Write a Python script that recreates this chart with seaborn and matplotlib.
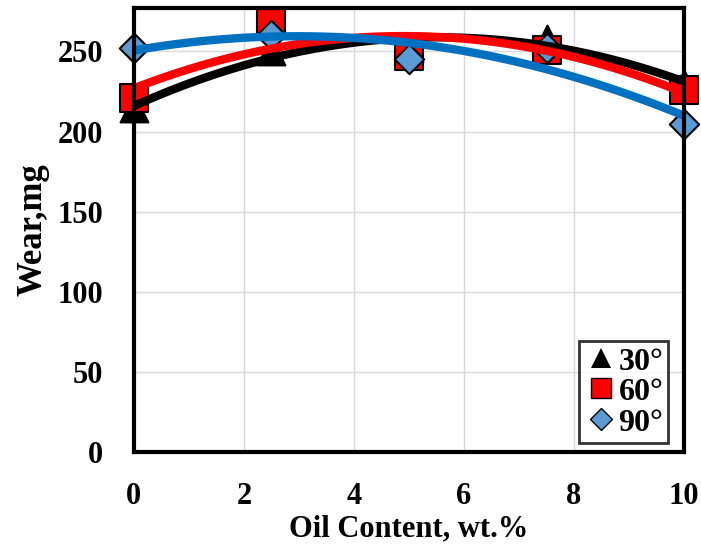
import numpy as np
import pandas as pd
import matplotlib
matplotlib.use("Agg")
import matplotlib.pyplot as plt
from matplotlib.lines import Line2D
import seaborn as sns

oil_content = [0, 2.5, 5, 7.5, 10]
wear_30 = [215, 250, 252, 258, 230]
wear_60 = [221, 268, 247, 251, 226]
wear_90 = [252, 260, 245, 252, 205]
series_labels = ["30°", "60°", "90°"]
x_ticks = [0, 2, 4, 6, 8, 10]
y_ticks = [0, 50, 100, 150, 200, 250]

sns.set_theme(style="white")
plt.rcParams["font.family"] = ["Liberation Serif", "DejaVu Serif"]
plt.rcParams["font.weight"] = "bold"
plt.rcParams["text.color"] = "black"
plt.rcParams["axes.labelcolor"] = "black"
plt.rcParams["xtick.color"] = "black"
plt.rcParams["ytick.color"] = "black"

fig = plt.figure(figsize=(7.01, 5.49), dpi=100)
ax = fig.add_axes([0.191, 0.177, 0.785, 0.808])

styles = [
    dict(marker="^", face="black", edge="black", line="black", s=20),
    dict(marker="s", face="#FF0000", edge="black", line="#FF0000", s=20),
    dict(marker="D", face="#5B9BD5", edge="black", line="#0070C0", s=15),
]
all_wear = [wear_30, wear_60, wear_90]

for i, (vals, st) in enumerate(zip(all_wear, styles)):
    df = pd.DataFrame({"x": oil_content, "y": vals})
    sns.scatterplot(data=df, x="x", y="y", ax=ax, marker=st["marker"],
                    s=st["s"] ** 2, color=st["face"], edgecolor=st["edge"],
                    linewidth=1.5, zorder=3 + i, clip_on=False, legend=False)

for i, (vals, st) in enumerate(zip(all_wear, styles)):
    df = pd.DataFrame({"x": oil_content, "y": vals})
    sns.regplot(data=df, x="x", y="y", ax=ax, order=2, ci=None, scatter=False,
                line_kws=dict(color=st["line"], linewidth=6, zorder=7 + i,
                              solid_capstyle="butt"))

ax.set_xlim(0, 10)
ax.set_ylim(0, 277)
ax.set_xticks(x_ticks)
ax.set_yticks(y_ticks)
ax.set_xticklabels([str(t) for t in x_ticks], fontsize=22, fontweight="bold")
ax.set_yticklabels([str(t) for t in y_ticks], fontsize=22, fontweight="bold")
ax.tick_params(axis="both", length=0, pad=22, colors="black", labelcolor="black")
ax.grid(True, color="#D9D9D9", linewidth=1)
ax.set_axisbelow(True)
for sp in ax.spines.values():
    sp.set_color("black")
    sp.set_linewidth(3)
    sp.set_zorder(10)

ax.set_xlabel("Oil Content, wt.%", fontsize=22, fontweight="bold", labelpad=2,
              color="black")
ax.set_ylabel("Wear,mg", fontsize=25, fontweight="bold", labelpad=6,
              color="black")

handles = []
for lab, st in zip(series_labels, styles):
    handles.append(Line2D([], [], linestyle="none", marker=st["marker"],
                          markerfacecolor=st["face"], markeredgecolor=st["edge"],
                          markersize=14 if st["marker"] != "D" else 11,
                          markeredgewidth=1 if st["marker"] != "^" else 0,
                          label=lab))
leg = ax.legend(handles=handles, loc="lower right",
                bbox_to_anchor=(0.971, 0.02), frameon=True, fancybox=False,
                prop=dict(size=23, weight="bold"), handletextpad=0.0,
                handlelength=1.1, borderpad=0.15, labelspacing=0.0,
                borderaxespad=0, handleheight=0.85)
for t in leg.get_texts():
    t.set_color("black")
leg.get_frame().set_edgecolor("black")
leg.get_frame().set_linewidth(2)
leg.set_zorder(20)

fig.savefig("out.png", dpi=100)
